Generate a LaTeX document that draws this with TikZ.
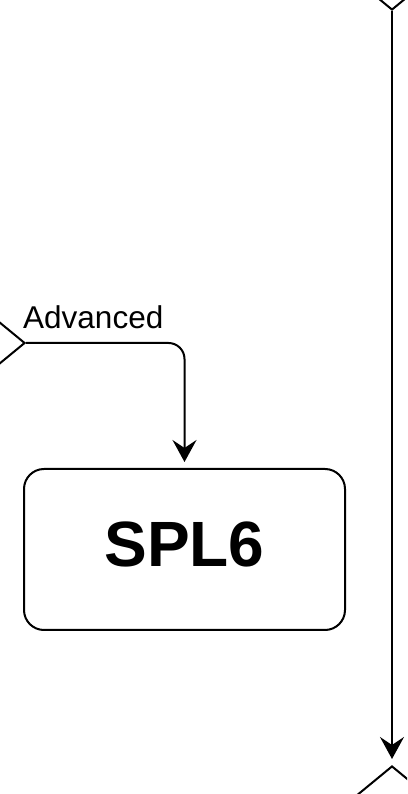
\documentclass[tikz,border=0pt]{standalone}
\usepackage{fontspec}
\setmainfont{Liberation Sans}
\usetikzlibrary{shapes.geometric,arrows.meta}

\tikzset{
  decision/.style={draw,diamond,line width=2pt,minimum width=80pt,minimum height=66pt,inner sep=0pt},
  splbox/.style={draw,rounded corners=20pt,line width=2pt,minimum width=321pt,minimum height=161pt,
    font=\fontsize{64}{64}\selectfont\bfseries,text depth=11pt},
  flow/.style={line width=2pt,-{Stealth[length=22pt,width=24pt,inset=8pt]},shorten >=6pt},
  edgelabel/.style={inner sep=0pt,font=\fontsize{31.5}{31.5}\selectfont},
}

\begin{document}
\begin{tikzpicture}[x=1pt,y=1pt]
\useasboundingbox (0,0) rectangle (407,794);
\clip (0,0) rectangle (407,794); % only parts of the diamonds show
\node[decision] (dTop) at (392,817) {};
\node[decision] (dLeft) at (-15,451) {};
\node[decision] (dBot) at (392,-5) {};
\node[splbox] (spl6) at (184.5,244.5) {SPL6};
\draw[flow] (dTop.south) -- (dBot.north); % long way down on the right
\draw[flow,rounded corners=16pt] (dLeft.east) -| (spl6.north);
\node[edgelabel,anchor=base west] (advLbl) at ([xshift=-3pt,yshift=14pt]dLeft.east) {Advanced};
\end{tikzpicture}
\end{document}
